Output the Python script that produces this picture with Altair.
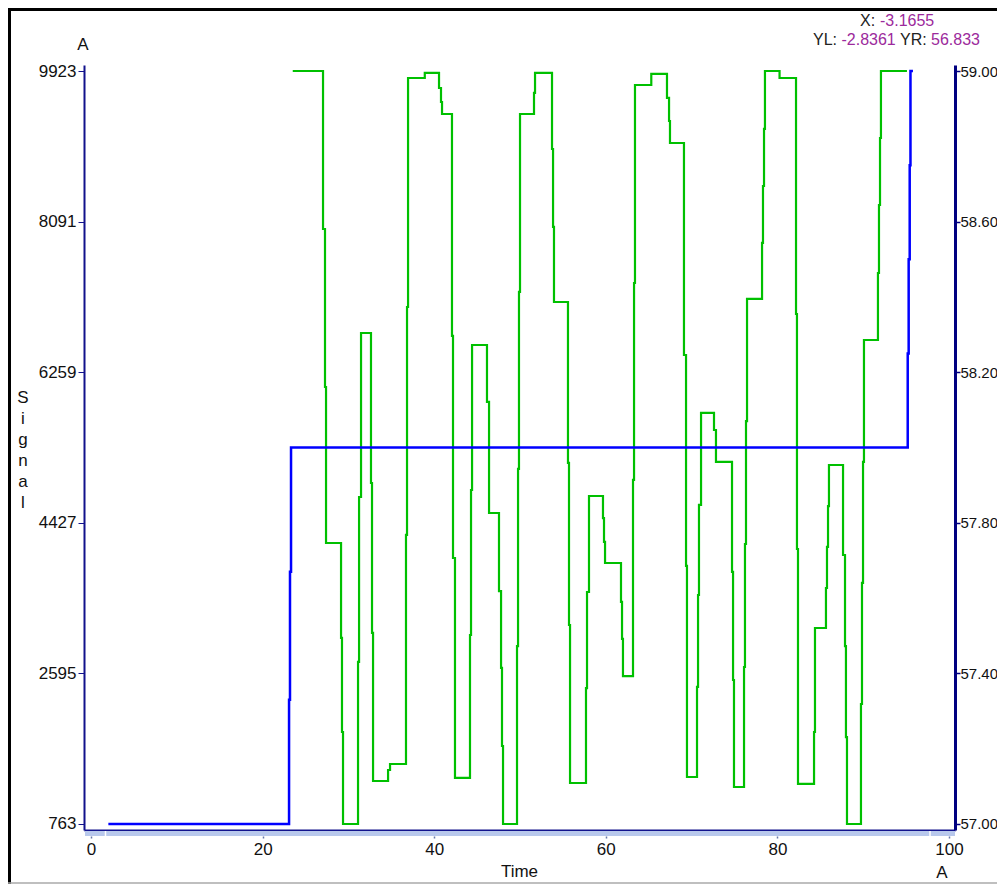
import altair as alt
import pandas as pd

# ---- data ----
green_t = [23.51, 27.04, 27.27, 27.39, 29.14, 29.25, 29.37, 31.12, 31.24, 31.47,
           32.63, 32.75, 32.87, 34.62, 34.85, 36.71, 36.83, 36.95, 38.90, 40.56,
           40.79, 40.91, 42.07, 42.19, 42.42, 44.17, 44.29, 44.41, 46.15, 46.39,
           47.55, 47.79, 47.90, 48.02, 49.65, 49.77, 49.88, 50.00, 51.63, 51.75,
           53.73, 53.85, 53.96, 55.59, 55.71, 55.83, 57.69, 57.81, 58.04, 59.67,
           59.79, 59.91, 61.77, 61.89, 62.00, 63.17, 63.29, 63.40, 65.30, 67.13,
           67.37, 67.48, 69.11, 69.35, 69.46, 70.63, 70.75, 70.86, 71.10, 72.61,
           72.84, 74.71, 74.83, 74.94, 76.11, 76.22, 76.34, 76.46, 78.21, 78.32,
           78.44, 78.55, 80.25, 82.17, 82.28, 82.40, 84.27, 84.38, 85.66, 85.78,
           85.90, 86.01, 87.65, 87.88, 87.99, 88.11, 89.74, 89.86, 89.98, 90.09,
           91.72, 91.84, 91.96, 92.07, 95.10]
green_v = [9923, 8001, 6079, 4181, 3026, 1882, 763, 2734, 4741, 6736,
           4911, 3087, 1286, 1420, 1493, 4279, 7052, 9838, 9899, 9716,
           9546, 9400, 6700, 3999, 1323, 3062, 4826, 6590, 5897, 4546,
           3597, 2661, 1712, 763, 2928, 5082, 7235, 9400, 9656, 9899,
           8974, 8026, 7113, 5155, 3184, 1262, 2417, 3585, 4753, 4485,
           4194, 3938, 3464, 3014, 2563, 4948, 7344, 9753, 9887, 9595,
           9315, 9047, 6468, 3902, 1335, 2430, 3549, 4644, 5763, 5556,
           5167, 3829, 2515, 1213, 2673, 4169, 5665, 7150, 7831, 8524,
           9218, 9923, 9838, 6967, 4108, 1250, 1882, 3147, 3634, 4133,
           4631, 5130, 4035, 2928, 1821, 763, 2223, 3695, 5167, 6651,
           7466, 8293, 9108, 9923, 9923]

blue_t = [2.02, 23.08, 23.19, 23.31, 95.19, 95.30, 95.42, 95.51, 95.80]
blue_v = [57.0, 57.33, 57.67, 58.0, 58.25, 58.5, 58.75, 59.0, 59.0]

x_ticks = [0, 20, 40, 60, 80, 100]
left_ticks = [763, 2595, 4427, 6259, 8091, 9923]
right_ticks = [57.0, 57.4, 57.8, 58.2, 58.6, 59.0]

x_title = "Time"
y_title_letters = ["S", "i", "g", "n", "a", "l"]
unit_label = "A"
readout_x = ("X:", "-3.1655")
readout_yl = ("YL:", "-2.8361")
readout_yr = ("YR:", "56.833")

# ---- styling ----
FONT = "Liberation Sans"
NAVY = "#12128c"
PURPLE = "#9c2a9c"
W, H = 871, 765

green_df = pd.DataFrame({"t": green_t, "v": green_v})
blue_df = pd.DataFrame({"t": blue_t, "v": blue_v})
one = alt.Data(values=[{"k": 1}])

x_enc = alt.X(
    "t:Q",
    scale=alt.Scale(domain=[-0.82, 100.70], nice=False, zero=False),
    axis=alt.Axis(
        values=x_ticks, title=None, grid=False, format="d",
        domainColor=NAVY, domainWidth=2,
        tickSize=8, tickColor="#6677aa", tickWidth=1.5, tickDash=[0, 6, 2, 20],
        labelPadding=3, labelFont=FONT, labelFontSize=17, labelColor="#111",
        labelFlush=True, labelFlushOffset=6,
    ),
)

green = alt.Chart(green_df).mark_line(
    interpolate="step-after", color="#00c000", strokeWidth=2.2
).encode(
    x=x_enc,
    y=alt.Y(
        "v:Q",
        scale=alt.Scale(domain=[690, 9996], nice=False, zero=False),
        axis=alt.Axis(
            orient="left", values=left_ticks, title=None, grid=False, format="d",
            domainColor=NAVY, domainWidth=2, tickColor=NAVY, tickSize=6,
            labelPadding=2, labelFont=FONT, labelFontSize=17, labelColor="#111",
        ),
    ),
)

blue = alt.Chart(blue_df).mark_line(
    interpolate="step-after", color="#0000ff", strokeWidth=2.5
).encode(
    x=alt.X("t:Q"),
    y=alt.Y(
        "v:Q",
        scale=alt.Scale(domain=[56.984, 59.016], nice=False, zero=False),
        axis=alt.Axis(
            orient="right", values=right_ticks, title=None, grid=False, format=".2f",
            domainColor="#000080", domainWidth=3, tickColor="#000080", tickSize=5,
            tickWidth=1.5, labelPadding=0, labelFont=FONT, labelFontSize=15,
            labelColor="#111",
        ),
    ),
)


def txt(s, x, y, color="#111", size=17, align="center", baseline="middle", **kw):
    return alt.Chart(one).mark_text(
        text=s, font=FONT, fontSize=size, color=color, align=align,
        baseline=baseline, **kw
    ).encode(x=alt.value(x), y=alt.value(y))


def rule(x, x2, y, y2, color, width):
    return alt.Chart(one).mark_rule(color=color, strokeWidth=width).encode(
        x=alt.value(x), x2=alt.value(x2), y=alt.value(y), y2=alt.value(y2)
    )


band = alt.Chart(one).mark_rect(color="#b8c8ec").encode(
    x=alt.value(1), x2=alt.value(W), y=alt.value(766), y2=alt.value(771)
)
band_gaps = rule(21.5, 21.5, 766, 771, "#ffffff", 1.5) + rule(846, 846, 766, 771, "#ffffff", 1.5)

frame = (
    rule(-74.5, -74.5, -57, 819, "#000000", 3)
    + rule(-76, 913, -55.5, -55.5, "#000000", 3)
    + rule(-76, 913, 818, 818, "#aaaaaa", 1.5)
)

texts = (
    txt(unit_label, -1, -20)
    + txt(unit_label, 858, 808)
    + txt(x_title, 435.5, 807)
    + txt(y_title_letters, -61, 324.5, baseline="top", lineHeight=21)
    + txt(readout_x[0], 776, -44, color="#222", size=16, align="left")
    + txt(readout_x[1], 796, -44, color=PURPLE, size=16, align="left")
    + txt(readout_yl[0], 729, -25, color="#222", size=16, align="left")
    + txt(readout_yl[1], 757.5, -25, color=PURPLE, size=16, align="left")
    + txt(readout_yr[0], 816, -25, color="#222", size=16, align="left")
    + txt(readout_yr[1], 847, -25, color=PURPLE, size=16, align="left")
)

chart = (
    alt.layer(band, band_gaps, green, blue, frame, texts)
    .resolve_scale(y="independent")
    .properties(
        width=W, height=H,
        padding={"left": 76, "top": 57, "right": 42, "bottom": 54},
        autosize=alt.AutoSizeParams(type="none"),
        background="white",
    )
    .configure_view(stroke=None)
)

chart.save("out.html", embed_options={"renderer": "svg", "actions": False})
